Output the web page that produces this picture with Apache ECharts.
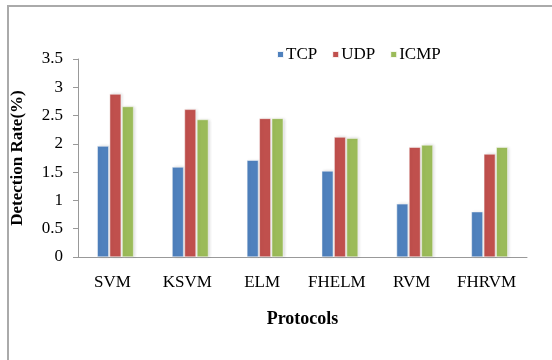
<!DOCTYPE html>
<html>
<head>
<meta charset="utf-8">
<script src="https://cdn.jsdelivr.net/npm/echarts@6/dist/echarts.min.js"></script>
<style>
  html, body { margin: 0; padding: 0; background: #fff; }
  #chart { width: 552px; height: 360px; }
</style>
</head>
<body>
<div id="chart"></div>
<script>
// Detection rate per classifier, split by protocol
const categories = ['SVM', 'KSVM', 'ELM', 'FHELM', 'RVM', 'FHRVM'];
const tcp  = [1.96, 1.59, 1.71, 1.52, 0.94, 0.80];
const udp  = [2.88, 2.61, 2.45, 2.12, 1.94, 1.82];
const icmp = [2.66, 2.43, 2.45, 2.10, 1.98, 1.94];
const yTicks = { min: 0, max: 3.5, interval: 0.5 };

const font = '"Liberation Serif", "DejaVu Serif", serif';

function barSeries(name, data, color) {
  return {
    name: name,
    type: 'bar',
    data: data,
    barWidth: 11.5,
    barGap: '8%',
    itemStyle: {
      color: color,
      borderColor: 'rgba(255,255,255,0.9)',
      borderWidth: 0.5,
      shadowColor: 'rgba(0,0,0,0.15)',
      shadowBlur: 3,
      shadowOffsetX: 1.5,
      shadowOffsetY: 0
    }
  };
}

const chart = echarts.init(document.getElementById('chart'));
chart.setOption({
  animation: false,
  backgroundColor: '#fff',
  textStyle: { fontFamily: font },
  graphic: [
    { type: 'line', shape: { x1: 7, y1: 6, x2: 552, y2: 6 },
      style: { stroke: '#aaaaaa', lineWidth: 2 } },
    { type: 'line', shape: { x1: 8, y1: 5, x2: 8, y2: 360 },
      style: { stroke: '#aaaaaa', lineWidth: 2 } }
  ],
  legend: {
    top: 41,
    left: 271,
    itemWidth: 7,
    itemHeight: 7,
    itemGap: 14,
    icon: 'rect',
    textStyle: { fontFamily: font, fontSize: 17, color: '#000', padding: [0, 0, 0, -3] },
    data: ['TCP', 'UDP', 'ICMP']
  },
  grid: { left: 78, right: 25, top: 59, bottom: 103, containLabel: false },
  xAxis: {
    type: 'category',
    data: categories,
    name: 'Protocols',
    nameLocation: 'middle',
    nameGap: 53,
    nameTextStyle: { fontFamily: font, fontSize: 18, fontWeight: 'bold', color: '#000' },
    axisLine: { lineStyle: { color: '#999', width: 1 } },
    axisTick: { show: false },
    axisLabel: { interval: 0, hideOverlap: false, fontFamily: font, fontSize: 17, color: '#000', margin: 17, padding: [0, 6, 0, 0] }
  },
  yAxis: {
    type: 'value',
    min: yTicks.min,
    max: yTicks.max,
    interval: yTicks.interval,
    name: 'Detection Rate(%)',
    nameLocation: 'middle',
    nameGap: 52,
    nameTextStyle: { fontFamily: font, fontSize: 17, fontWeight: 'bold', color: '#000' },
    axisLine: { show: true, lineStyle: { color: '#999', width: 1 } },
    axisTick: { show: true, length: 5, inside: false, lineStyle: { color: '#999' } },
    splitLine: { show: false },
    axisLabel: { fontFamily: font, fontSize: 17, color: '#000', margin: 15 }
  },
  series: [
    barSeries('TCP', tcp, '#4F81BD'),
    barSeries('UDP', udp, '#C0504D'),
    barSeries('ICMP', icmp, '#9BBB59')
  ]
});
</script>
</body>
</html>
